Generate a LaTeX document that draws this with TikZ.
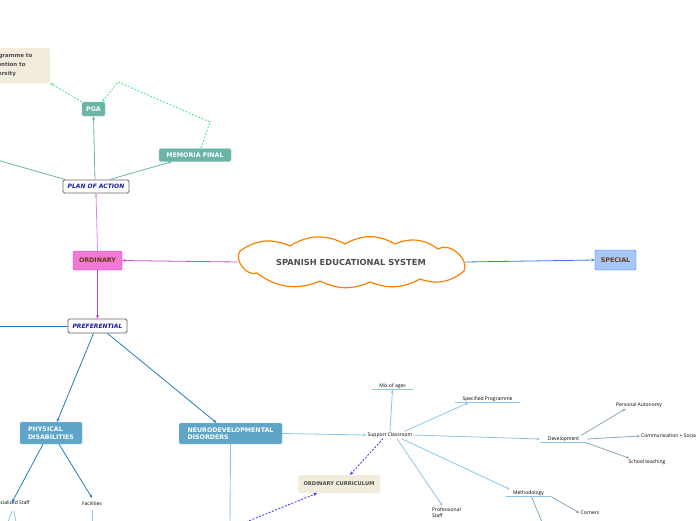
\documentclass[tikz,border=0pt]{standalone}
\usepackage{fontspec}
\setmainfont{DejaVu Sans}
\newfontfamily\leaffont{Open Sans}
\usetikzlibrary{arrows.meta}
\definecolor{tealbox}{HTML}{6AB5A5}
\definecolor{steelbox}{HTML}{5EA5C8}
\definecolor{pinkbox}{HTML}{F27AD6}
\definecolor{magline}{HTML}{C040C8}
\definecolor{specfill}{HTML}{A6C8F7}
\definecolor{specline}{HTML}{3A78E0}
\definecolor{beige}{HTML}{F2ECDC}
\definecolor{lblue}{HTML}{8EC5E6}
\definecolor{pblue}{HTML}{1F7DB8}
\definecolor{gline}{HTML}{44E88C}
\definecolor{navy}{HTML}{1A1A9A}
\definecolor{brownt}{HTML}{6A3A10}
\begin{document}
\begin{tikzpicture}[x=1pt,y=-1pt,
  every node/.style={font=\fontsize{6}{7}\selectfont},
  box/.style={rounded corners=1.5pt,inner sep=0pt,font=\fontsize{6.3}{7.5}\selectfont\bfseries},
  tealnode/.style={box,fill=tealbox,draw=tealbox!70!white,text=white},
  steelnode/.style={box,fill=steelbox,draw=steelbox!70!white,text=white,align=left},
  plannode/.style={box,fill=white,draw=black!60,thick,text=navy,font=\fontsize{6}{7}\selectfont\bfseries\itshape},
  notebox/.style={box,fill=beige,text=black!70,font=\fontsize{5.5}{9}\selectfont\bfseries},
  leaf/.style={font=\leaffont\fontsize{5}{6}\selectfont,inner sep=1pt},
  uline/.style={draw=lblue,line width=0.9pt},
  link/.style={-{Stealth[length=3.5pt,width=3pt]},line width=0.8pt},
  lightlink/.style={link,draw=lblue},
  devlink/.style={link,draw=black!25!lblue!80},
  dashlink/.style={link,dash pattern=on 2pt off 1.5pt,line width=0.8pt}]
\useasboundingbox (0,0) rectangle (696,520);
\clip (0,0) rectangle (696,520);

% central topic
\node[minimum width=228pt,minimum height=40pt,inner sep=0pt] (ses) at (351,262) {};
\draw[orange,line width=1.2pt,fill=white] (240,251) to[bend left=30] (290,246) to[bend left=30] (345,244)
  to[bend left=30] (395,244) to[bend left=30] (438,249) to[bend left=75] (464,271)
  to[bend left=30] (420,279) to[bend left=25] (370,282) to[bend left=25] (320,281)
  to[bend left=30] (257,273) to[bend left=75] cycle;
\node[font=\fontsize{8.3}{10}\selectfont\bfseries,text=black!70] at (ses) {SPANISH EDUCATIONAL SYSTEM};
\node[box,fill=specfill,draw=specline,text=brownt,minimum width=41pt,minimum height=20pt] (special) at (615.5,260) {SPECIAL};
\node[box,fill=pinkbox,draw=magline,text=brownt,minimum width=49pt,minimum height=19pt] (ordinary) at (97.5,260.5) {ORDINARY};

% plan of action
\node[plannode,minimum width=66pt,minimum height=13pt] (plan) at (96,186.5) {PLAN OF ACTION};
\node[tealnode,minimum width=23pt,minimum height=14pt] (pga) at (93.5,109) {PGA};
\node[tealnode,minimum width=72pt,minimum height=13pt] (memoria) at (195,155) {MEMORIA FINAL};
\node[notebox,align=left,text width=56pt,minimum height=35pt,inner xsep=6pt] (attention) at (16,65.5) {Programme to\\Attention to\\Diversity};
\coordinate (planleft) at (-10,158);
\coordinate (memup) at (210,122);
\coordinate (pgaup) at (118,82);

% preferential
\node[plannode,minimum width=59pt,minimum height=14pt] (pref) at (97.5,326) {PREFERENTIAL};
\node[steelnode,minimum width=62pt,minimum height=22pt,inner xsep=4pt] (physical) at (51,433) {PHYSICAL\\DISABILITIES};
\node[steelnode,minimum width=103pt,minimum height=21pt,inner xsep=4pt] (neuro) at (230.5,433.5) {NEURODEVELOPMENTAL\\DISORDERS};
\node[notebox,minimum width=82pt,minimum height=18pt,font=\fontsize{5.2}{6}\selectfont\bfseries] (ordcurr) at (339,484) {ORDINARY CURRICULUM};
\coordinate (prefleft) at (-10,326);

% leaves
\node[leaf,anchor=east] (spstaff) at (31,503) {Specialized Staff};
\node[leaf] (facilities) at (92,504) {Facilities};
\node[leaf] (support) at (390,435) {Support Classroom};
\node[leaf,minimum width=41pt] (mix) at (392.5,386) {Mix of ages};
\node[leaf,minimum width=65pt] (specprog) at (487.5,399) {Specified Programme};
\node[leaf,minimum width=47pt] (develop) at (563.5,439) {Development};
\node[leaf,minimum width=45pt] (method) at (528.5,493) {Methodology};
\node[leaf,align=left,anchor=north west] (profstaff) at (431,506) {Professional\\Staff};
\node[leaf] (autonomy) at (639,405) {Personal Autonomy};
\node[leaf,anchor=west] (comm) at (640,436) {Communication + Socialization};
\node[leaf] (school) at (647,462) {School teaching};
\node[leaf] (corners) at (590,513) {Corners};
\foreach \n in {mix,specprog,develop,method}
  \draw[uline] (\n.south west) -- (\n.south east);

% off-page ends
\coordinate (staffa) at (12,511);
\coordinate (staffb) at (8,522);
\coordinate (staffc) at (16,522);
\coordinate (facdown) at (92,522);
\coordinate (neurodown) at (230,522);
\coordinate (currleft) at (246,522);
\coordinate (methdown) at (542,522);

% connectors
\draw[link,draw=magline!90] (ses.west) -- (ordinary.east);
\draw[link,draw=specline] (ses.east) -- (special.west);
\draw[link,draw=magline!60] (ordinary.north) -- (plan.south);
\draw[link,draw=magline] (ordinary.south) -- (pref.north);
\draw[link,draw=tealbox] ([xshift=-1pt]plan.north) -- (pga.south);
\draw[link,draw=tealbox] ([xshift=-20pt]plan.north east) -- ([xshift=13pt]memoria.south west);
\draw[draw=tealbox,line width=0.8pt] ([xshift=3pt]plan.north west) -- (planleft);
\draw[dashlink,draw=gline] (pga.north west) -- (attention.south east);
\draw[dashlink,draw=gline] ([xshift=6pt]memoria.north) -- (memup) -- (pgaup) -- ([xshift=-3pt]pga.north east);
\draw[draw=pblue,line width=0.8pt] (pref.west) -- (prefleft);
\draw[link,draw=pblue] ([xshift=-4pt]pref.south) -- ([xshift=6pt]physical.north);
\draw[link,draw=pblue] ([xshift=10pt]pref.south) -- ([xshift=-14pt]neuro.north);
\draw[link,draw=pblue] ([xshift=-8pt]physical.south) -- ([xshift=-19pt,yshift=-3pt]spstaff.north east);
\draw[link,draw=pblue] ([xshift=8pt]physical.south) -- ([yshift=3pt]facilities.north);
\draw[draw=lblue,line width=0.8pt] (staffa) -- (staffb) ([xshift=2pt]staffa) -- (staffc);
\draw[draw=lblue,line width=0.9pt] ([yshift=-3pt]facilities.south) -- (facdown);
\draw[draw=lblue,line width=0.9pt] (neuro.south) -- (neurodown);
\draw[lightlink] (neuro.east) -- (support.west);
\draw[dashlink,draw=blue!80] (currleft) -- ([xshift=-22pt]ordcurr.south);
\draw[dashlink,draw=blue!80] ([xshift=-7pt]support.south) -- ([xshift=11pt]ordcurr.north);
\draw[lightlink] (support.north) -- (mix.south);
\draw[lightlink] ([xshift=-9pt]support.north east) -- ([xshift=-19pt]specprog.south);
\draw[lightlink] (support.east) -- (develop.west);
\draw[lightlink] ([xshift=-12pt]support.south east) -- ([xshift=4pt]method.north west);
\draw[lightlink] ([xshift=7pt]support.south) -- ([xshift=-4pt]profstaff.north);
\draw[devlink] ([xshift=-6pt]develop.north east) -- ([xshift=11pt]autonomy.south west);
\draw[devlink] (develop.east) -- (comm.west);
\draw[devlink] ([xshift=-1pt]develop.south east) -- ([xshift=2pt]school.north west);
\draw[devlink] (method.south east) -- (corners.west);
\draw[draw=black!25!lblue!80,line width=0.8pt] ([xshift=3pt]method.south) -- (methdown);
\end{tikzpicture}
\end{document}
